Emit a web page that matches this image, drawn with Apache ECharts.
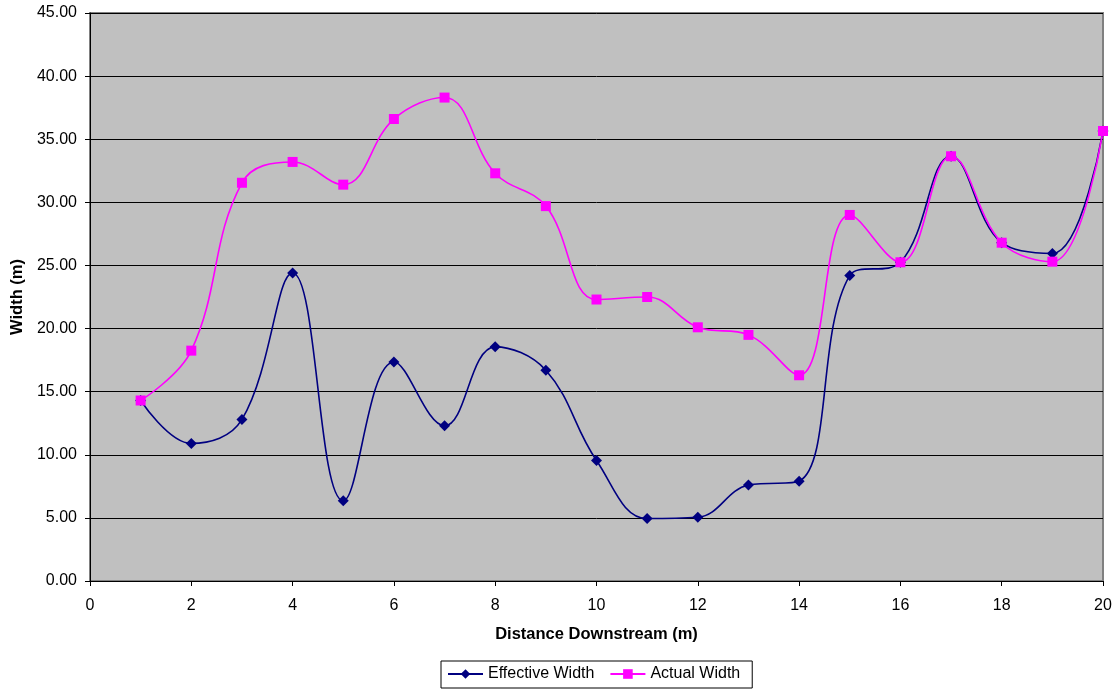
<!DOCTYPE html>
<html>
<head>
<meta charset="utf-8">
<script src="https://cdn.jsdelivr.net/npm/echarts@6/dist/echarts.min.js"></script>
<style>html,body{margin:0;padding:0;background:#fff}#c{width:1119px;height:691px}</style>
</head>
<body>
<div id="c"></div>
<script>
const distance = [1,2,3,4,5,6,7,8,9,10,11,12,13,14,15,16,17,18,19,20];
const effectiveWidth = [14.3,10.9,12.8,24.4,6.35,17.35,12.3,18.55,16.7,9.55,4.95,5.05,7.6,7.9,24.2,25.25,33.65,26.8,25.95,35.65];
const actualWidth = [14.3,18.25,31.55,33.2,31.4,36.6,38.3,32.3,29.7,22.3,22.5,20.1,19.5,16.3,29.0,25.25,33.65,26.8,25.3,35.65];
const seriesNames = ['Effective Width','Actual Width'];

const pairs = (xs, ys) => xs.map((x,i)=>[x, ys[i]]);
const font = 'Liberation Sans, Arial, sans-serif';
const chart = echarts.init(document.getElementById('c'), null, {renderer:'canvas'});
chart.setOption({
  animation:false,
  backgroundColor:'#ffffff',
  grid:{left:90,right:16,top:13,bottom:110,show:true,backgroundColor:'#C0C0C0',borderColor:'#808080',borderWidth:2},
  xAxis:{
    type:'value',min:0,max:20,interval:2,
    name:'Distance Downstream (m)',nameLocation:'middle',nameGap:45,
    nameTextStyle:{fontFamily:font,fontSize:16.5,fontWeight:'bold',color:'#000'},
    axisLine:{show:true,onZero:false,lineStyle:{color:'#000',width:1}},
    axisTick:{show:true,length:5,inside:false,lineStyle:{color:'#000'}},
    axisLabel:{fontFamily:font,fontSize:16,color:'#000',margin:17},
    splitLine:{show:false}
  },
  yAxis:{
    type:'value',min:0,max:45,interval:5,
    name:'Width (m)',nameLocation:'middle',nameGap:62,nameRotate:90,
    nameTextStyle:{fontFamily:font,fontSize:16.5,fontWeight:'bold',color:'#000'},
    axisLine:{show:true,lineStyle:{color:'#000',width:1}},
    axisTick:{show:true,length:5,lineStyle:{color:'#000'}},
    axisLabel:{fontFamily:font,fontSize:16,color:'#000',margin:13,formatter:v=>v.toFixed(2)},
    splitLine:{show:true,lineStyle:{color:'#000',width:1}}
  },
  legend:{
    top:661,left:441,
    data:seriesNames,
    borderColor:'#000',borderWidth:1,borderRadius:0,padding:[5,12,6,6],
    itemWidth:35,itemHeight:12,itemGap:15,
    textStyle:{fontFamily:font,fontSize:16,color:'#000'}
  },
  series:[
    {name:seriesNames[0],type:'line',smooth:0.4,data:pairs(distance,effectiveWidth),
     symbol:'diamond',symbolSize:11,itemStyle:{color:'#000080'},lineStyle:{color:'#000080',width:1.6}},
    {name:seriesNames[1],type:'line',smooth:0.4,data:pairs(distance,actualWidth),
     symbol:'rect',symbolSize:10,itemStyle:{color:'#FF00FF'},lineStyle:{color:'#FF00FF',width:1.6}}
  ]
});
</script>
</body>
</html>
